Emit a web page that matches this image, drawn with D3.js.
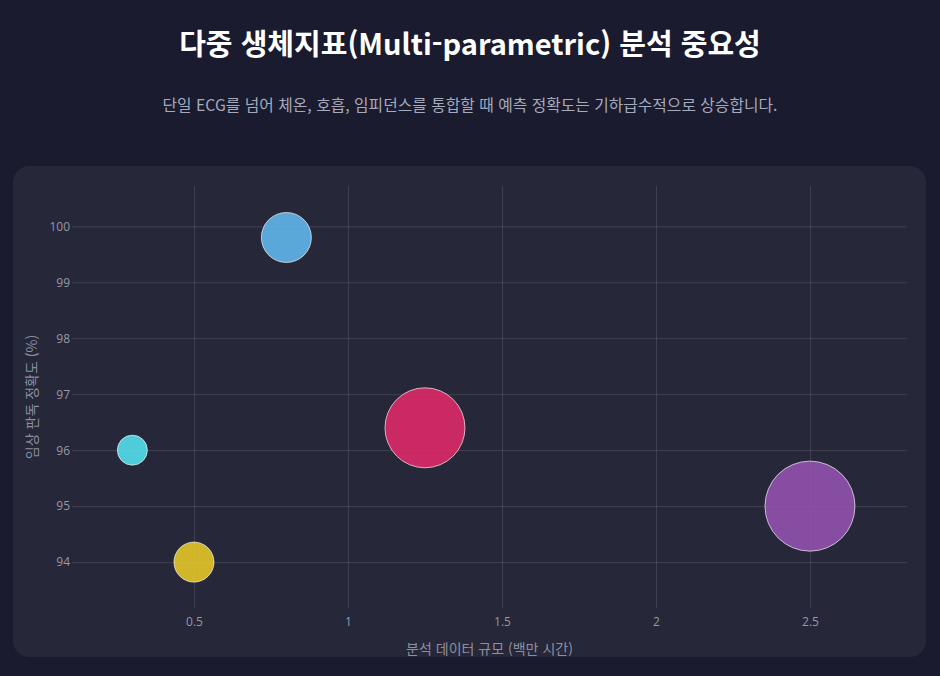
<!DOCTYPE html>
<html lang="ko">
<head>
<meta charset="utf-8">
<script src="https://cdn.jsdelivr.net/npm/d3@7"></script>
<style>
  html, body { margin: 0; padding: 0; }
  body {
    width: 940px; height: 676px; overflow: hidden;
    background: #1a1b2e;
    font-family: "Noto Sans CJK KR", "Noto Sans", sans-serif;
    position: relative;
  }
  h1 {
    position: absolute; left: 0; top: 22px; width: 940px; margin: 0;
    text-align: center; color: #ffffff;
    font-size: 29px; font-weight: 700; line-height: 40px;
  }
  p.sub {
    position: absolute; left: 0; top: 93px; width: 940px; margin: 0;
    text-align: center; color: #a6aabd;
    font-size: 15.8px; line-height: 24px;
  }
  #chart {
    position: absolute; left: 13px; top: 166px;
    width: 913px; height: 491px;
    background: #262738; border-radius: 16px; overflow: hidden;
  }
</style>
</head>
<body>
<h1>다중 생체지표(Multi-parametric) 분석 중요성</h1>
<p class="sub">단일 ECG를 넘어 체온, 호흡, 임피던스를 통합할 때 예측 정확도는 기하급수적으로 상승합니다.</p>
<div id="chart"></div>
<script>
// data
const dataSize   = [0.3, 0.5, 0.8, 1.25, 2.5];      // 분석 데이터 규모 (백만 시간)
const accuracy   = [96, 94, 99.8, 96.4, 95];         // 임상 판독 정확도 (%)
const bubbleDiam = [30, 40, 50, 80, 90];             // marker size
const bubbleColors = ['#54dfeb', '#e5c628', '#60b7eb', '#de2a68', '#9152af'];
const xTicks = [0.5, 1, 1.5, 2, 2.5];
const yTicks = [94, 95, 96, 97, 98, 99, 100];
const xTitle = '분석 데이터 규모 (백만 시간)';
const yTitle = '임상 판독 정확도 (%)';

const points = dataSize.map((d, i) => ({x: d, y: accuracy[i], s: bubbleDiam[i], c: bubbleColors[i]}));

const W = 913, H = 491;
const m = {t: 20, r: 19, b: 49, l: 59};
const pw = W - m.l - m.r, ph = H - m.t - m.b;

const svg = d3.select('#chart').append('svg')
    .attr('width', W).attr('height', H);

const xScale = d3.scaleLinear().domain([0.104, 2.815]).range([0, pw]);
const yScale = d3.scaleLinear().domain([93.18, 100.72]).range([ph, 0]);

const g = svg.append('g').attr('transform', 'translate(' + m.l + ',' + m.t + ')');

// grid lines
g.append('g')
    .call(d3.axisBottom(xScale).tickValues(xTicks).tickSize(ph).tickFormat(''))
    .call(a => a.select('.domain').remove())
    .selectAll('line').attr('stroke', 'rgba(255,255,255,0.12)');
g.append('g')
    .call(d3.axisLeft(yScale).tickValues(yTicks).tickSize(-pw).tickFormat(''))
    .call(a => a.select('.domain').remove())
    .selectAll('line').attr('stroke', 'rgba(255,255,255,0.12)');

// tick labels
const xAxis = g.append('g').attr('transform', 'translate(0,' + ph + ')')
    .call(d3.axisBottom(xScale).tickValues(xTicks).tickSize(0).tickPadding(9).tickFormat(d3.format('')));
xAxis.select('.domain').remove();
xAxis.selectAll('text').attr('fill', '#9798a8').style('font-family', '"Open Sans", sans-serif').style('font-size', '12px');

const yAxis = g.append('g')
    .call(d3.axisLeft(yScale).tickValues(yTicks).tickSize(0).tickPadding(2));
yAxis.select('.domain').remove();
yAxis.selectAll('text').attr('fill', '#9798a8').style('font-family', '"Open Sans", sans-serif').style('font-size', '12px');

// axis titles
svg.append('text')
    .attr('x', m.l + pw / 2).attr('y', 488)
    .attr('text-anchor', 'middle')
    .attr('fill', '#8d8fa0').style('font-size', '14px')
    .text(xTitle);
svg.append('text')
    .attr('transform', 'translate(18,' + (m.t + ph / 2) + ') rotate(-90)')
    .attr('text-anchor', 'middle').attr('dominant-baseline', 'central')
    .attr('fill', '#8d8fa0').style('font-size', '14px')
    .text(yTitle);

// bubbles
g.selectAll('.bubble').data(points)
    .enter()
    .append('circle')
    .attr('class', 'bubble')
    .attr('cx', d => xScale(d.x))
    .attr('cy', d => yScale(d.y))
    .attr('r', d => d.s / 2)
    .attr('fill', d => d.c)
    .attr('fill-opacity', 0.9)
    .attr('stroke', 'rgba(255,255,255,0.65)')
    .attr('stroke-width', 1);
</script>
</body>
</html>
